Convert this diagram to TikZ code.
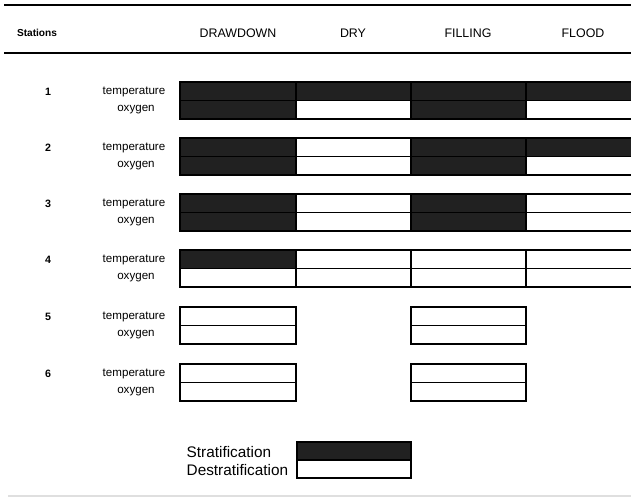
\documentclass[tikz,border=0pt]{standalone}
\usepackage{fontspec}
\setmainfont{Liberation Sans}
\usepackage{tikz}
\usetikzlibrary{positioning}

\begin{document}
\begin{tikzpicture}[
        x=0.75pt, y=-0.75pt,
        strat/.style={draw=black, line width=0.8pt, fill=black!87},
        destrat/.style={draw=black, line width=0.8pt, fill=white},
        blank/.style={draw=none, fill=none},
        rule/.style={black, line width=1.4pt},
        head/.style={font=\fontsize{9.3}{11}\selectfont},
        lab/.style={font=\fontsize{8.7}{10}\selectfont},
        num/.style={font=\fontsize{8}{10}\selectfont\bfseries},
        legend/.style={anchor=west, font=\fontsize{11.5}{13}\selectfont}
    ]
        \useasboundingbox (0,0) rectangle (631,497);
        \clip (0,0) rectangle (631,497);

        % Header
        \draw[rule] (4,5) -- (631,5);
        \draw[rule] (4,53) -- (631,53);
        \node[font=\fontsize{7.6}{9}\selectfont\bfseries] (stations) at (37,33) {Stations};
        \node[head] (drawdown) at (238,33) {DRAWDOWN};
        \node[head] (dry) at (353,33) {DRY};
        \node[head] (filling) at (468,33) {FILLING};
        \node[head] (flood) at (583,33) {FLOOD};

        % Cells (top of half row / drawdown / dry / filling / flood)
        \foreach \y/\a/\b/\c/\d in {
            82/strat/strat/strat/strat, 100.5/strat/destrat/strat/destrat,
            138/strat/destrat/strat/strat, 156.5/strat/destrat/strat/destrat,
            194/strat/destrat/strat/destrat, 212.5/strat/destrat/strat/destrat,
            250/strat/destrat/destrat/destrat, 268.5/destrat/destrat/destrat/destrat,
            307/destrat/blank/destrat/blank, 325.5/destrat/blank/destrat/blank,
            364/destrat/blank/destrat/blank, 382.5/destrat/blank/destrat/blank} {
            \draw[\a] (180,\y) rectangle (296,\y+18.5);
            \draw[\b] (296,\y) rectangle (411,\y+18.5);
            \draw[\c] (411,\y) rectangle (526,\y+18.5);
            \draw[\d] (526,\y) rectangle (641,\y+18.5);
        }

        % Row labels
        \foreach \i/\y in {1/82, 2/138, 3/194, 4/250, 5/307, 6/364} {
            \node[num] (num\i) at (48,\y+9.5) {\i};
            \node[lab] (temp\i) at (134,\y+9.5) {temperature};
            \node[lab] (oxy\i) at (136,\y+28) {oxygen};
        }

        % Legend
        \node[legend] (stratlab) at (182,452) {Stratification};
        \node[legend] (destratlab) at (182,470) {Destratification};
        \draw[strat] (297,442) rectangle (411,460);
        \draw[destrat] (297,460) rectangle (411,478);

        \draw[gray!25, line width=1pt] (8,496) -- (631,496);
    \end{tikzpicture}
\end{document}
